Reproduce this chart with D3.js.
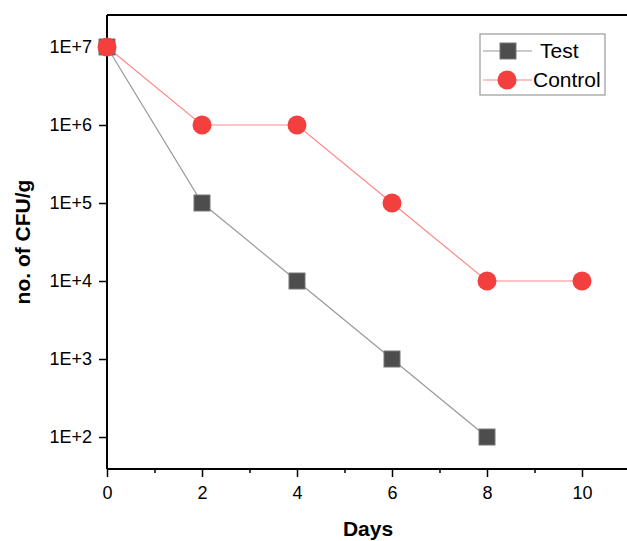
<!DOCTYPE html>
<html><head><meta charset="utf-8">
<script src="https://cdn.jsdelivr.net/npm/d3@7/dist/d3.min.js"></script>
<style>body{margin:0;background:#fff}svg{display:block;font-family:Arial,"Liberation Sans",sans-serif}</style>
</head><body><svg id="c" width="627" height="541"></svg>
<script>
const days = [0, 2, 4, 6, 8, 10];
const testValues = [1e7, 1e5, 1e4, 1e3, 1e2, null];
const controlValues = [1e7, 1e6, 1e6, 1e5, 1e4, 1e4];
const xTicks = [0, 2, 4, 6, 8, 10];
const xMinorTicks = [1, 3, 5, 7, 9];
const yTicks = [1e2, 1e3, 1e4, 1e5, 1e6, 1e7];
const yTickLabels = ["1E+2", "1E+3", "1E+4", "1E+5", "1E+6", "1E+7"];
const seriesNames = ["Test", "Control"];

const svg = d3.select("#c");
const L = 107, T = 15, B = 469;
const x = d3.scaleLinear().domain([0, 11]).range([L, L + 11 * 47.5]);
const y = d3.scaleLog().domain([Math.pow(10, 1.59), Math.pow(10, 7.41)]).range([B, T]);

// frame
svg.append("line").attr("x1", L).attr("x2", 640).attr("y1", T).attr("y2", T).attr("stroke", "#000").attr("stroke-width", 2);

const xa = svg.append("g").attr("transform", `translate(0,${B})`)
  .call(d3.axisBottom(x).tickValues(xTicks).tickFormat(d3.format("d")).tickSize(8).tickPadding(9));
svg.append("g").attr("transform", `translate(0,${B})`)
  .call(d3.axisBottom(x).tickValues(xMinorTicks).tickFormat("").tickSize(4))
  .select(".domain").remove();
const ya = svg.append("g").attr("transform", `translate(${L},0)`)
  .call(d3.axisLeft(y).tickValues(yTicks).tickFormat(d => yTickLabels[yTicks.indexOf(d)]).tickSize(8).tickPadding(7));
svg.selectAll(".domain").attr("stroke-width", 2);
svg.selectAll(".tick line").attr("stroke-width", 1.5);
svg.selectAll(".tick text").attr("font-size", 18).attr("fill", "#000").attr("font-family", "Arial, 'Liberation Sans', sans-serif");
xa.select(".domain").attr("d", `M${L},0H640`);
ya.select(".domain").attr("d", `M0,${B}V${T}`);

// axis titles
svg.append("text").attr("x", 368).attr("y", 536).attr("text-anchor", "middle")
  .attr("font-size", 21).attr("font-weight", "bold").text("Days");
svg.append("text").attr("transform", "translate(30,242) rotate(-90)").attr("text-anchor", "middle")
  .attr("font-size", 21).attr("font-weight", "bold").text("no. of CFU/g");

const line = d3.line().x(d => x(d[0])).y(d => y(d[1]));
const testPts = days.map((d, i) => [d, testValues[i]]).filter(d => d[1] != null);
const ctrlPts = days.map((d, i) => [d, controlValues[i]]);

svg.append("path").attr("d", line(testPts)).attr("fill", "none").attr("stroke", "#999").attr("stroke-width", 1.2);
svg.append("path").attr("d", line(ctrlPts)).attr("fill", "none").attr("stroke", "#f88").attr("stroke-width", 1.2);

const S = 16;
svg.selectAll(".sq").data(testPts).join("rect")
  .attr("x", d => x(d[0]) - S / 2).attr("y", d => y(d[1]) - S / 2).attr("width", S).attr("height", S)
  .attr("fill", "#4d4d4d").attr("stroke", "#777").attr("stroke-width", 1);
svg.selectAll(".ci").data(ctrlPts).join("circle")
  .attr("cx", d => x(d[0])).attr("cy", d => y(d[1])).attr("r", 9.5)
  .attr("fill", "#f43f3f");

// legend
const lg = svg.append("g");
lg.append("rect").attr("x", 480).attr("y", 34).attr("width", 125).attr("height", 61)
  .attr("fill", "#fff").attr("stroke", "#999").attr("stroke-width", 1.2);
lg.append("line").attr("x1", 483).attr("x2", 532).attr("y1", 51).attr("y2", 51).attr("stroke", "#999").attr("stroke-width", 1.2);
lg.append("rect").attr("x", 500).attr("y", 43).attr("width", S).attr("height", S).attr("fill", "#4d4d4d").attr("stroke", "#777");
lg.append("text").attr("x", 540).attr("y", 58).attr("font-size", 21).text(seriesNames[0]);
lg.append("line").attr("x1", 483).attr("x2", 532).attr("y1", 80).attr("y2", 80).attr("stroke", "#f88").attr("stroke-width", 1.2);
lg.append("circle").attr("cx", 507).attr("cy", 80).attr("r", 9.5).attr("fill", "#f43f3f");
lg.append("text").attr("x", 533).attr("y", 87).attr("font-size", 21).text(seriesNames[1]);
</script></body></html>
